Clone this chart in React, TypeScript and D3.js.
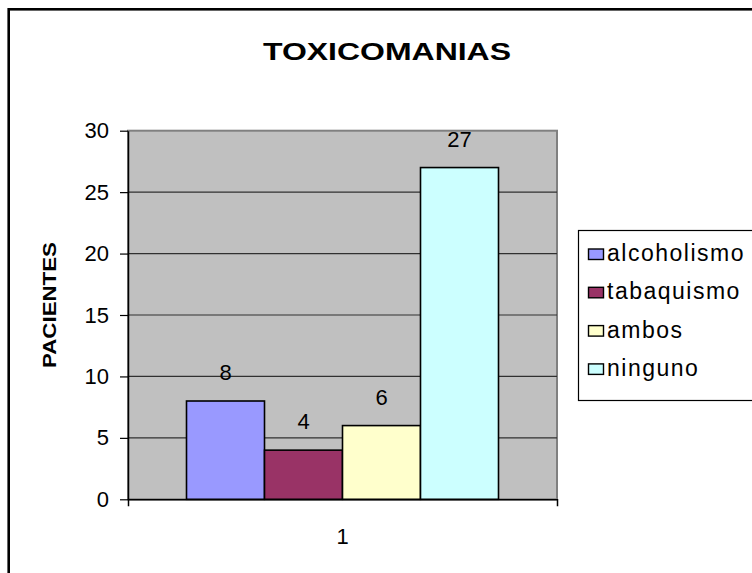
import React, { useEffect, useRef } from 'react';
import * as d3 from 'd3';

// chart data
const categories = ['1'];
const seriesNames = ['alcoholismo', 'tabaquismo', 'ambos', 'ninguno'];
const seriesValues = [8, 4, 6, 27];
const seriesColors = ['#9999FF', '#993366', '#FFFFCC', '#CCFFFF'];
const yTicks = [0, 5, 10, 15, 20, 25, 30];

const App: React.FC = () => {
  const svgRef = useRef<SVGSVGElement | null>(null);

  useEffect(() => {
    if (!svgRef.current) return;
    const svg = d3.select(svgRef.current);
    svg.selectAll('*').remove();

    const font = 'Liberation Sans, Arial, sans-serif';
    const plot = { left: 128, right: 557, top: 130.7, bottom: 499.3 };

    // outer chart border
    svg.append('rect')
      .attr('x', 8.7).attr('y', 9.3)
      .attr('width', 800).attr('height', 700)
      .attr('fill', '#fff')
      .attr('stroke', '#000')
      .attr('stroke-width', 2.6);

    // title
    svg.append('text')
      .attr('x', 263).attr('y', 60)
      .attr('font-family', font)
      .attr('font-size', 24)
      .attr('font-weight', 'bold')
      .attr('textLength', 248)
      .attr('lengthAdjust', 'spacingAndGlyphs')
      .text('TOXICOMANIAS');

    // scales
    const y = d3.scaleLinear().domain([0, 30]).range([plot.bottom, plot.top]);
    const x0 = d3.scaleBand().domain(categories).range([plot.left, plot.right]);
    const x1 = d3.scaleBand()
      .domain(seriesNames)
      .range([0, x0.bandwidth()])
      .paddingInner(0)
      .paddingOuter(0.75);

    // plot area
    svg.append('rect')
      .attr('x', plot.left).attr('y', plot.top)
      .attr('width', plot.right - plot.left)
      .attr('height', plot.bottom - plot.top)
      .attr('fill', '#C0C0C0')
      .attr('stroke', '#808080')
      .attr('stroke-width', 2);

    // gridlines
    svg.append('g')
      .selectAll('line')
      .data(yTicks.filter(t => t > 0 && t < 30))
      .join('line')
      .attr('x1', plot.left).attr('x2', plot.right)
      .attr('y1', d => y(d)).attr('y2', d => y(d))
      .attr('stroke', '#303030')
      .attr('stroke-width', 1.2);

    // bars
    const groups = svg.append('g')
      .selectAll('g')
      .data(categories)
      .join('g')
      .attr('transform', d => `translate(${x0(d)},0)`);

    groups.selectAll('rect')
      .data(seriesNames.map((name, i) => ({ name, value: seriesValues[i], color: seriesColors[i] })))
      .join('rect')
      .attr('x', d => x1(d.name)!)
      .attr('y', d => y(d.value))
      .attr('width', x1.bandwidth())
      .attr('height', d => plot.bottom - y(d.value))
      .attr('fill', d => d.color)
      .attr('stroke', '#000')
      .attr('stroke-width', 1.6);

    // value labels
    groups.selectAll('text')
      .data(seriesNames.map((name, i) => ({ name, value: seriesValues[i] })))
      .join('text')
      .attr('x', d => x1(d.name)! + x1.bandwidth() / 2)
      .attr('y', d => y(d.value) - 21)
      .attr('text-anchor', 'middle')
      .attr('font-family', font)
      .attr('font-size', 22)
      .text(d => d.value);

    // y axis
    const yAxis = svg.append('g')
      .attr('transform', `translate(${plot.left},0)`)
      .call(d3.axisLeft(y).tickValues(yTicks).tickSize(8).tickPadding(11).tickSizeOuter(0));
    yAxis.select('.domain').attr('stroke', '#000').attr('stroke-width', 1.5);
    yAxis.selectAll('.tick line').attr('stroke', '#000').attr('stroke-width', 1.2);
    yAxis.selectAll('.tick text')
      .attr('font-family', font)
      .attr('font-size', 22)
      .attr('fill', '#000');

    // x axis
    const xAxis = svg.append('g')
      .attr('transform', `translate(0,${plot.bottom})`)
      .call(d3.axisBottom(x0).tickSize(0).tickPadding(29).tickSizeOuter(7));
    xAxis.select('.domain').attr('stroke', '#000').attr('stroke-width', 1.5);
    xAxis.selectAll('.tick text')
      .attr('font-family', font)
      .attr('font-size', 22)
      .attr('fill', '#000');

    // y axis title
    svg.append('text')
      .attr('transform', `translate(56,368) rotate(-90)`)
      .attr('font-family', font)
      .attr('font-size', 19)
      .attr('font-weight', 'bold')
      .attr('textLength', 126)
      .attr('lengthAdjust', 'spacingAndGlyphs')
      .text('PACIENTES');

    // legend
    const legend = svg.append('g');
    legend.append('rect')
      .attr('x', 578.5).attr('y', 230.5)
      .attr('width', 300).attr('height', 170)
      .attr('fill', '#fff')
      .attr('stroke', '#000')
      .attr('stroke-width', 1.2);

    seriesNames.forEach((name, i) => {
      const row = legend.append('g')
        .attr('transform', `translate(588, ${253 + i * 38.3})`);
      row.append('rect')
        .attr('x', 0.5).attr('y', -4)
        .attr('width', 15).attr('height', 10.5)
        .attr('fill', seriesColors[i])
        .attr('stroke', '#000')
        .attr('stroke-width', 1.4);
      row.append('text')
        .attr('x', 19)
        .attr('y', 8)
        .attr('font-family', font)
        .attr('font-size', 23)
        .attr('letter-spacing', 1.5)
        .text(name);
    });
  }, []);

  return (
    <svg
      ref={svgRef}
      width={752}
      height={573}
      style={{ position: 'absolute', left: 0, top: 0, background: '#fff' }}
    />
  );
};

export default App;
